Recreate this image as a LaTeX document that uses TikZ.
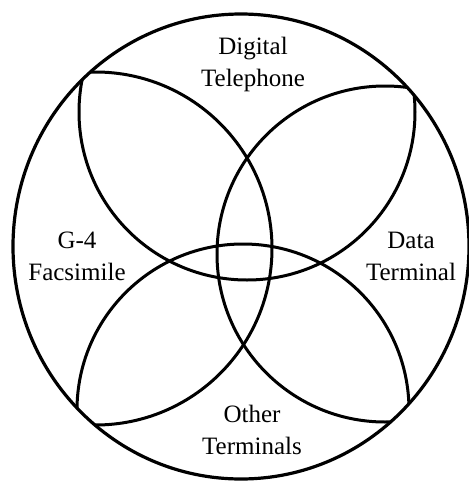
\documentclass[tikz,border=0pt]{standalone}
\usepackage{fontspec}
\setmainfont{Liberation Serif}
\usepackage{tikz}
\tikzstyle{termtext} = [align=center, inner sep=0pt,
    font=\fontsize{25}{32}\selectfont]
\tikzstyle{ring} = [line width=3.2pt, draw=black]
\tikzstyle{petal} = [line width=3pt, draw=black]

\begin{document}
\begin{tikzpicture}[x=1pt, y=-1pt]
        \useasboundingbox (0,0) rectangle (469,483);

        % Centres
        \coordinate (O) at (241,246.5);
        \coordinate (ctop) at (247,112);
        \coordinate (cleft) at (95.5,248.5);
        \coordinate (cright) at (385,254);
        \coordinate (cbottom) at (243,410);

        % Inner arcs, cut off at the outer ring
        \begin{scope}
            \clip (O) ellipse [x radius=228, y radius=232.5];
            \draw[petal] (ctop) circle [radius=168];
            \draw[petal] (cleft) circle [radius=176.5];
            \draw[petal] (cright) circle [radius=168];
            \draw[petal] (cbottom) circle [radius=166];
        \end{scope}

        % Outer ring
        \draw[ring] (O) ellipse [x radius=228, y radius=232.5];

        % Terminals
        \node[termtext] (tel) at (253,64) {Digital\\Telephone};
        \node[termtext] (fax) at (77,256) {G-4\\Facsimile};
        \node[termtext] (data) at (411,256) {Data\\Terminal};
        \node[termtext] (other) at (252,430) {Other\\Terminals};
    \end{tikzpicture}
\end{document}
